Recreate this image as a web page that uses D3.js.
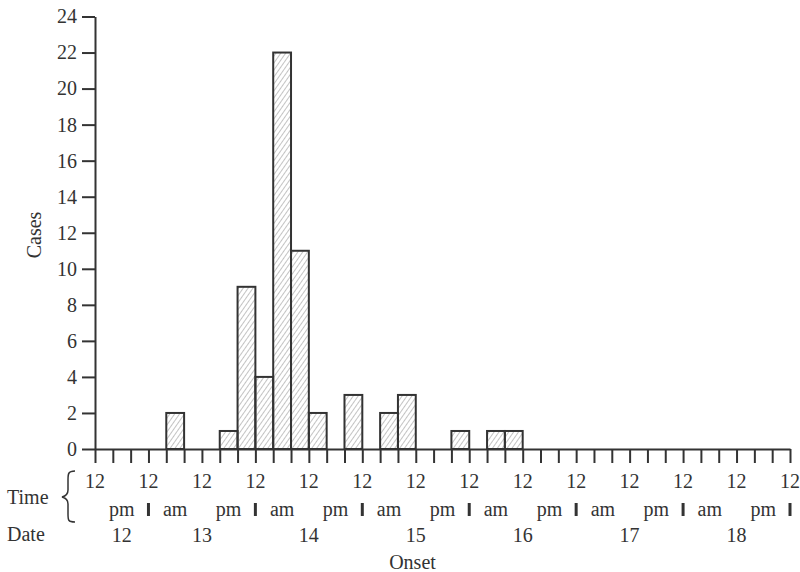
<!DOCTYPE html>
<html>
<head>
<meta charset="utf-8">
<script src="https://cdn.jsdelivr.net/npm/d3@7"></script>
<style>
  body { margin: 0; background: #fff; }
  text { font-family: "Liberation Serif", "Times New Roman", serif; fill: #333; }
</style>
</head>
<body>
<div id="chart"></div>
<script>
// 4-hour bins starting at 12 noon on the 12th
const binHours = 4;
const cases = [
  0, 0, 0, 0, 2, 0, 0, 1, 9, 4, 22, 11, 2,
  0, 3, 0, 2, 3, 0, 0, 1, 0, 1, 1, 0, 0,
  0, 0, 0, 0, 0, 0, 0, 0, 0, 0, 0, 0, 0
];
const yTicks = [0, 2, 4, 6, 8, 10, 12, 14, 16, 18, 20, 22, 24];
const timeLabels = ["12", "12", "12", "12", "12", "12", "12", "12", "12", "12", "12", "12", "12", "12"];
const halfDayLabels = ["pm", "am", "pm", "am", "pm", "am", "pm", "am", "pm", "am", "pm", "am", "pm"];
const dates = ["12", "13", "14", "15", "16", "17", "18"];

const width = 800, height = 572;
const x0 = 95, x1 = 790, yBase = 449, yTop = 16.5;
const totalHours = cases.length * binHours;
const ink = "#333";
const fs = 20;

const svg = d3.select("#chart").append("svg")
  .attr("width", width)
  .attr("height", height);

const x = d3.scaleLinear().domain([0, totalHours]).range([x0, x1]);
const y = d3.scaleLinear().domain([0, 24]).range([yBase, yTop]);

// hatch fill
svg.append("defs").append("pattern")
  .attr("id", "hatch")
  .attr("patternUnits", "userSpaceOnUse")
  .attr("width", 4).attr("height", 4)
  .attr("patternTransform", "rotate(35)")
  .append("line")
    .attr("x1", 0).attr("y1", 0).attr("x2", 0).attr("y2", 4)
    .attr("stroke", "#888").attr("stroke-width", 1);

// bars
svg.append("g").selectAll("rect")
  .data(cases.map((v, i) => ({ i, v })).filter(d => d.v > 0))
  .enter()
  .append("rect")
    .attr("x", d => x(d.i * binHours))
    .attr("y", d => y(d.v))
    .attr("width", d => x((d.i + 1) * binHours) - x(d.i * binHours))
    .attr("height", d => yBase - y(d.v))
    .attr("fill", "url(#hatch)")
    .attr("stroke", ink)
    .attr("stroke-width", 2);

// y axis
const yAxis = svg.append("g")
  .attr("transform", `translate(${x0},0)`)
  .call(d3.axisLeft(y).tickValues(yTicks).tickSize(13).tickSizeOuter(0).tickPadding(5));
yAxis.select(".domain").attr("stroke", ink).attr("stroke-width", 2);
yAxis.selectAll(".tick line").attr("stroke", ink).attr("stroke-width", 2);
yAxis.selectAll(".tick text").attr("font-size", fs).attr("font-family", "Liberation Serif").attr("fill", ink);

// x axis: ticks every 4 hours
const xAxis = svg.append("g")
  .attr("transform", `translate(0,${yBase})`)
  .call(d3.axisBottom(x).tickValues(d3.range(0, totalHours + 1, binHours)).tickSize(14).tickSizeOuter(0).tickFormat(""));
xAxis.select(".domain").attr("stroke", ink).attr("stroke-width", 2);
xAxis.selectAll(".tick line").attr("stroke", ink).attr("stroke-width", 2);

// "12" labels every 12 hours
svg.append("g").selectAll("text")
  .data(timeLabels)
  .enter().append("text")
    .attr("x", (d, i) => x(i * 12))
    .attr("y", 488)
    .attr("text-anchor", "middle")
    .attr("font-size", fs)
    .text(d => d);

// pm / am labels
svg.append("g").selectAll("text")
  .data(halfDayLabels)
  .enter().append("text")
    .attr("x", (d, i) => x(i * 12 + 6))
    .attr("y", 516)
    .attr("text-anchor", "middle")
    .attr("font-size", fs)
    .text(d => d);

// midnight separators
svg.append("g").selectAll("line")
  .data(d3.range(12, totalHours + 1, 24))
  .enter().append("line")
    .attr("x1", d => x(d)).attr("x2", d => x(d))
    .attr("y1", 503).attr("y2", 516)
    .attr("stroke", ink).attr("stroke-width", 3);

// date labels at noon of each day (first one centred in the half day shown)
svg.append("g").selectAll("text")
  .data(dates)
  .enter().append("text")
    .attr("x", (d, i) => i === 0 ? x(6) : x(i * 24))
    .attr("y", 542)
    .attr("text-anchor", "middle")
    .attr("font-size", fs)
    .text(d => d);

// row titles
svg.append("text").attr("x", 7).attr("y", 504).attr("font-size", fs).text("Time");
svg.append("text").attr("x", 7).attr("y", 541).attr("font-size", fs).text("Date");
svg.append("path")
  .attr("d", "M75,471 C68,471 68,474 68,480 L68,490 C68,494 66,496 62,497 C66,498 68,500 68,504 L68,514 C68,520 68,522 75,522")
  .attr("fill", "none").attr("stroke", ink).attr("stroke-width", 1.5);

// axis titles
svg.append("text")
  .attr("x", (x0 + x1) / 2 - 30)
  .attr("y", 569)
  .attr("text-anchor", "middle")
  .attr("font-size", fs)
  .text("Onset");

svg.append("text")
  .attr("transform", "translate(41,235) rotate(-90)")
  .attr("text-anchor", "middle")
  .attr("font-size", fs)
  .text("Cases");
</script>
</body>
</html>
